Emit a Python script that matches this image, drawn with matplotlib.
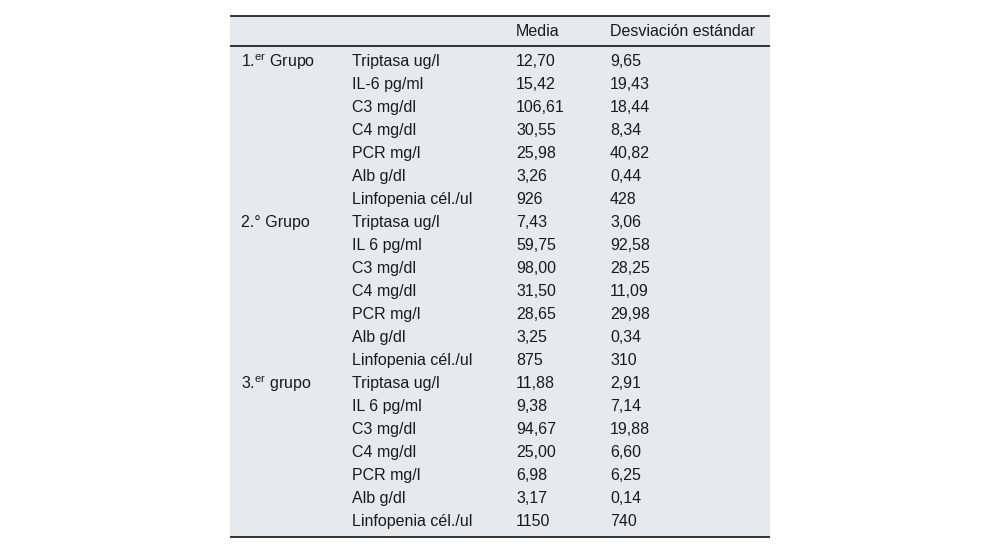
import matplotlib
matplotlib.use("Agg")
import matplotlib.pyplot as plt
from matplotlib.patches import Rectangle

plt.rcParams['font.family'] = ['Liberation Sans', 'DejaVu Sans']
plt.rcParams['mathtext.fontset'] = 'custom'
plt.rcParams['mathtext.rm'] = 'Liberation Sans'
plt.rcParams['mathtext.it'] = 'Liberation Sans:italic'

header = ["", "", "Media", "Desviación estándar"]
groups = ["1.$^{\\mathrm{er}}$ Grupo", "2.° Grupo", "3.$^{\\mathrm{er}}$ grupo"]
params_g1 = ["Triptasa ug/l", "IL-6 pg/ml", "C3 mg/dl", "C4 mg/dl", "PCR mg/l", "Alb g/dl", "Linfopenia cél./ul"]
params_g2 = ["Triptasa ug/l", "IL 6 pg/ml", "C3 mg/dl", "C4 mg/dl", "PCR mg/l", "Alb g/dl", "Linfopenia cél./ul"]
params_g3 = ["Triptasa ug/l", "IL 6 pg/ml", "C3 mg/dl", "C4 mg/dl", "PCR mg/l", "Alb g/dl", "Linfopenia cél./ul"]
media_g1 = ["12,70", "15,42", "106,61", "30,55", "25,98", "3,26", "926"]
sd_g1 = ["9,65", "19,43", "18,44", "8,34", "40,82", "0,44", "428"]
media_g2 = ["7,43", "59,75", "98,00", "31,50", "28,65", "3,25", "875"]
sd_g2 = ["3,06", "92,58", "28,25", "11,09", "29,98", "0,34", "310"]
media_g3 = ["11,88", "9,38", "94,67", "25,00", "6,98", "3,17", "1150"]
sd_g3 = ["2,91", "7,14", "19,88", "6,60", "6,25", "0,14", "740"]

W, H = 1000, 553
fig = plt.figure(figsize=(W / 100, H / 100), dpi=100)
ax = fig.add_axes([0, 0, 1, 1])
ax.set_xlim(0, W)
ax.set_ylim(H, 0)
ax.axis('off')

left, right = 230, 770
top, head_bot, bottom = 15.5, 46, 537
bg = '#e6eaed'
ax.add_patch(Rectangle((left, top), right - left, bottom - top, facecolor=bg, edgecolor='none', zorder=0))
ax.plot([left, right], [top, top], color='black', lw=1.1, solid_capstyle='butt')
ax.plot([left, right], [head_bot, head_bot], color='black', lw=1.1, solid_capstyle='butt')
ax.plot([left, right], [bottom, bottom], color='black', lw=1.1, solid_capstyle='butt')

col_x = [241, 352, 516, 610]
fs = 11.5
tcolor = '#1a1a1a'

for cx, h in zip(col_x, header):
    if h:
        ax.text(cx, 31.5, h, fontsize=fs, color=tcolor, va='center', ha='left')

y0, pitch = 61.5, 23
blocks = [(groups[0], params_g1, media_g1, sd_g1),
          (groups[1], params_g2, media_g2, sd_g2),
          (groups[2], params_g3, media_g3, sd_g3)]
r = 0
for g, ps, ms, ss in blocks:
    for i, (p, m, s) in enumerate(zip(ps, ms, ss)):
        y = y0 + r * pitch
        if i == 0:
            ax.text(col_x[0], y, g, fontsize=fs, color=tcolor, va='center', ha='left')
        ax.text(col_x[1], y, p, fontsize=fs, color=tcolor, va='center', ha='left')
        ax.text(col_x[2], y, m, fontsize=fs, color=tcolor, va='center', ha='left')
        ax.text(col_x[3], y, s, fontsize=fs, color=tcolor, va='center', ha='left')
        r += 1

fig.savefig('out.png', dpi=100, facecolor='white')
